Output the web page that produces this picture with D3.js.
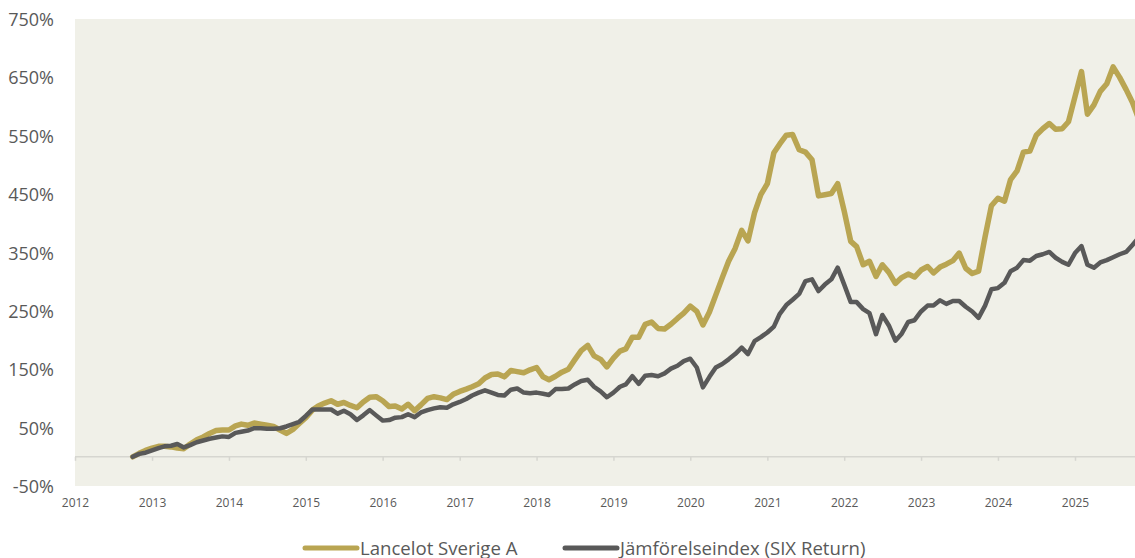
<!DOCTYPE html>
<html>
<head>
<meta charset="utf-8">
<script src="https://cdn.jsdelivr.net/npm/d3@7"></script>
<style>
  html, body { margin: 0; padding: 0; background: #fff; }
  svg { display: block; font-family: "Open Sans", "Noto Sans", sans-serif; }
</style>
</head>
<body>
<svg class="canvas" width="1135" height="558"></svg>
<script>
"use strict";

// monthly observations, first one is October 2012
const firstMonth = [2012, 9];
const seriesNames = ["Lancelot Sverige A", "Jämförelseindex (SIX Return)"];

// Lancelot Sverige A, cumulative return in %
const lancelot = [
  0, 6, 11, 15, 18, 18, 17, 15, 14, 22,
  29, 34, 40, 45, 46, 46, 53, 56, 54, 58,
  56, 54, 52, 46, 40, 47, 57, 67, 80, 87,
  92, 96, 90, 93, 88, 84, 94, 102, 103, 96,
  86, 87, 82, 90, 79, 89, 100, 103, 101, 98,
  107, 112, 116, 120, 125, 135, 141, 142, 137, 148,
  146, 144, 149, 153, 137, 132, 138, 145, 150, 166,
  182, 191, 173, 167, 154, 169, 181, 185, 205, 205,
  227, 231, 220, 219, 227, 237, 246, 258, 249, 226,
  248, 277, 307, 335, 357, 388, 370, 418, 449, 468,
  521, 536, 551, 552, 526, 522, 509, 447, 449, 451,
  468, 421, 369, 360, 329, 335, 309, 329, 316, 297,
  307, 313, 308, 320, 326, 315, 325, 330, 336, 349,
  323, 314, 318, 377, 430, 443, 438, 475, 490, 522,
  524, 551, 562, 571, 561, 562, 574, 617, 660, 587,
  603, 626, 639, 668, 650, 629, 607, 577
];

// Jämförelseindex (SIX Return), cumulative return in %
const benchmark = [
  0, 5, 7, 11, 15, 18, 19, 22, 16, 20,
  25, 28, 31, 33, 35, 34, 41, 43, 45, 49,
  49, 48, 48, 49, 52, 56, 60, 70, 81, 81,
  81, 81, 74, 79, 73, 63, 71, 80, 71, 62,
  63, 67, 68, 73, 68, 76, 80, 83, 85, 84,
  90, 94, 99, 105, 110, 114, 110, 106, 105, 115,
  117, 110, 109, 110, 108, 106, 116, 116, 117, 124,
  130, 132, 120, 112, 102, 110, 120, 124, 138, 125,
  139, 140, 138, 143, 151, 156, 164, 168, 153, 119,
  137, 153, 159, 167, 176, 187, 176, 198, 205, 213,
  223, 245, 260, 269, 279, 301, 304, 284, 295, 304,
  324, 295, 265, 265, 253, 246, 210, 243, 225, 199,
  211, 231, 234, 249, 259, 259, 268, 262, 267, 267,
  257, 249, 238, 259, 287, 289, 298, 318, 324, 337,
  336, 344, 347, 351, 341, 334, 329, 349, 361, 329,
  324, 333, 337, 342, 347, 351, 363, 376
];

const yearLabels = ["2012", "2013", "2014", "2015", "2016", "2017", "2018",
  "2019", "2020", "2021", "2022", "2023", "2024", "2025"];
const yTicks = [-50, 50, 150, 250, 350, 450, 550, 650, 750];

const colors = ["#b9a552", "#595959"];

function render() {
  const svg = d3.select(".canvas");
  const plot = { left: 75, top: 19, right: 1135, bottom: 486 };

  const start = new Date(Date.UTC(firstMonth[0], firstMonth[1], 1));
  const dates = lancelot.map((_, i) => d3.utcMonth.offset(start, i));

  const years = yearLabels.map(y => new Date(Date.UTC(+y, 0, 1)));
  const xScale = d3.scaleUtc()
    .domain([years[0], years[years.length - 1]])
    .range([75, 1075]);
  const yScale = d3.scaleLinear()
    .domain([yTicks[0], yTicks[yTicks.length - 1]])
    .range([plot.bottom, plot.top]);

  // plot background
  svg.append("rect")
    .attr("x", plot.left)
    .attr("y", plot.top)
    .attr("width", plot.right - plot.left)
    .attr("height", plot.bottom - plot.top)
    .attr("fill", "#f0f0e8");

  svg.append("clipPath").attr("id", "clip")
    .append("rect")
    .attr("x", plot.left)
    .attr("y", plot.top - 5)
    .attr("width", plot.right - plot.left)
    .attr("height", plot.bottom - plot.top + 10);

  // zero line with year ticks
  const zeroAxis = svg.append("g")
    .attr("transform", `translate(0,${yScale(0)})`)
    .call(d3.axisBottom(xScale).tickValues(years).tickSize(4).tickFormat(""));
  zeroAxis.select(".domain").remove();
  zeroAxis.selectAll("line").attr("stroke", "#d6d6d0").attr("stroke-width", 1.5);
  zeroAxis.append("line")
    .attr("x1", plot.left).attr("x2", plot.right)
    .attr("stroke", "#d6d6d0").attr("stroke-width", 1.5);

  // year labels
  const xAxis = svg.append("g")
    .attr("transform", `translate(0,${plot.bottom})`)
    .call(d3.axisBottom(xScale).tickValues(years).tickSize(0).tickPadding(12)
      .tickFormat((d, i) => yearLabels[i]));
  xAxis.select(".domain").remove();
  xAxis.selectAll("text")
    .attr("font-family", "Open Sans")
    .attr("font-size", 12)
    .attr("fill", "#595959");

  // y labels
  const yAxis = svg.append("g")
    .attr("transform", "translate(54,0)")
    .call(d3.axisLeft(yScale).tickValues(yTicks).tickSize(0).tickPadding(0)
      .tickFormat(d => d + "%"));
  yAxis.select(".domain").remove();
  yAxis.selectAll("text")
    .attr("font-family", "Open Sans")
    .attr("font-size", 18)
    .attr("fill", "#595959")
    .attr("dy", 6.5);

  const line = d3.line()
    .x((d, i) => xScale(dates[i]))
    .y(d => yScale(d));

  const lines = svg.append("g").attr("clip-path", "url(#clip)");
  [lancelot, benchmark].forEach((series, k) => {
    lines.append("path")
      .datum(series)
      .attr("d", line)
      .attr("fill", "none")
      .attr("stroke", colors[k])
      .attr("stroke-width", k === 0 ? 5.5 : 4.5)
      .attr("stroke-linejoin", "round")
      .attr("stroke-linecap", "round");
  });

  // legend
  const legendPos = [303, 563];
  const legend = svg.append("g");
  seriesNames.forEach((name, k) => {
    const g = legend.append("g").attr("transform", `translate(${legendPos[k]},0)`);
    g.append("line")
      .attr("x1", 2).attr("x2", 54)
      .attr("y1", 548).attr("y2", 548)
      .attr("stroke", colors[k])
      .attr("stroke-width", 5)
      .attr("stroke-linecap", "round");
    g.append("text")
      .attr("x", 57)
      .attr("y", 554.5)
      .attr("font-family", "Open Sans")
      .attr("font-size", 18.6)
      .attr("fill", "#595959")
      .text(name);
  });
}

window.onload = render;
</script>
</body>
</html>
